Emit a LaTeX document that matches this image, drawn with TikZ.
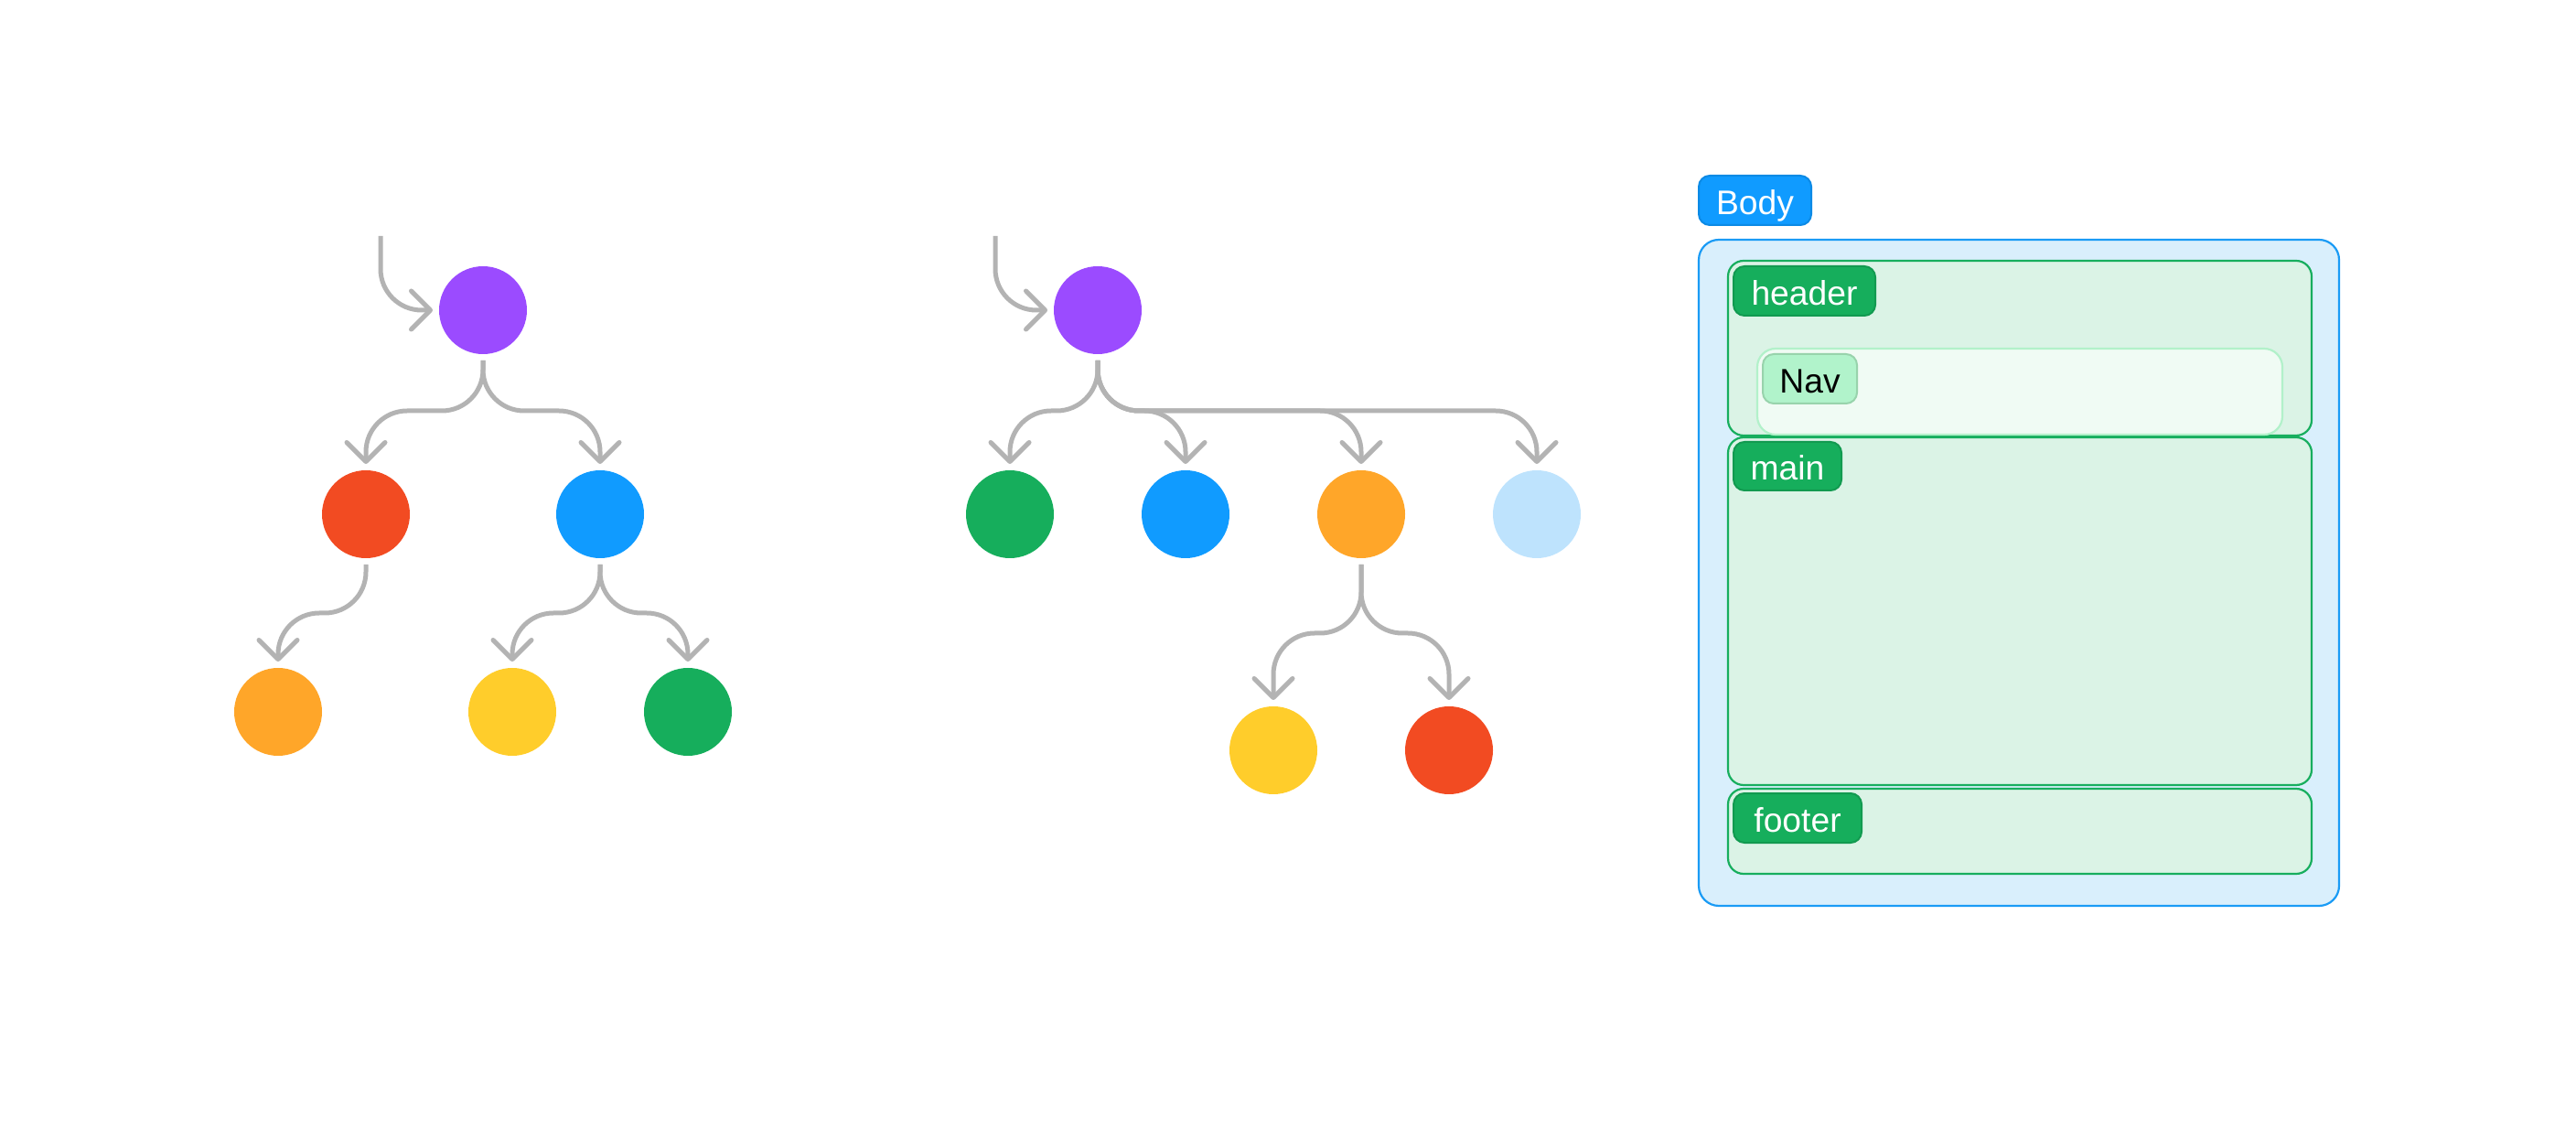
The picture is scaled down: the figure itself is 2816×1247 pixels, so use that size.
\documentclass[tikz,border=0pt]{standalone}
\usepackage{fontspec}
\setmainfont{Liberation Sans}
\usetikzlibrary{arrows.meta,positioning}

\definecolor{dotpurple}{HTML}{9B4BFF}
\definecolor{dotred}{HTML}{F24B22}
\definecolor{dotblue}{HTML}{109BFF}
\definecolor{dotorange}{HTML}{FFA629}
\definecolor{dotyellow}{HTML}{FFCD2B}
\definecolor{dotgreen}{HTML}{16AE5C}
\definecolor{dotpale}{HTML}{BEE3FD}
\definecolor{linkgray}{HTML}{B3B3B3}
\definecolor{bodyfill}{HTML}{D9EFFC}
\definecolor{bodyline}{HTML}{1A9BF5}
\definecolor{bodytagline}{HTML}{0C8AE5}
\definecolor{secfill}{HTML}{DBF3E6}
\definecolor{secline}{HTML}{17AE5E}
\definecolor{sectagline}{HTML}{129A50}
\definecolor{navfill}{HTML}{F0FBF4}
\definecolor{navline}{HTML}{B2F1CA}
\definecolor{navtag}{HTML}{B1F3CB}
\definecolor{navtagline}{HTML}{98D3AC}

\begin{document}
\begin{tikzpicture}[x=0.1mm,y=-0.1mm,
dot/.style={circle,fill=#1,minimum size=9.6mm,inner sep=0pt,outer sep=0pt},
link/.style={-{Straight Barb[length=2.1mm,width=4.2mm,round]},line width=0.5mm,draw=linkgray,rounded corners=4.5mm,shorten <=0.7mm,shorten >=0.7mm},
region/.style={draw=#1,line width=0.22mm,rounded corners=1.7mm,inner sep=0pt,outer sep=0pt,anchor=north west},
tag/.style={rounded corners=1.2mm,inner sep=0pt,outer sep=0pt,minimum height=5.4mm,text height=3.1mm,text depth=0pt,font=\fontsize{10.6}{12}\selectfont,line width=0.2mm}
]
\useasboundingbox (0,0) rectangle (2816,1247);

% first tree
\node[dot=dotpurple] (t1root) at (528,339) {};
\node[dot=dotred,on grid,below left=22.3mm and 12.8mm of t1root] (t1a) {};
\node[dot=dotblue,on grid,below right=22.3mm and 12.8mm of t1root] (t1b) {};
\node[dot=dotorange,on grid,below left=21.6mm and 9.6mm of t1a] (t1c) {};
\node[dot=dotyellow,on grid,below left=21.6mm and 9.6mm of t1b] (t1d) {};
\node[dot=dotgreen,on grid,below right=21.6mm and 9.6mm of t1b] (t1e) {};
\coordinate (t1in) at (416,258);
\draw[link,shorten <=0pt] (t1in) |- (t1root.west);
\draw[link] (t1root.south) -- ++(0,62) -| (t1a.north);
\draw[link] (t1root.south) -- ++(0,62) -| (t1b.north);
\draw[link] (t1a.south) -- ++(0,60) -| (t1c.north);
\draw[link] (t1b.south) -- ++(0,60) -| (t1d.north);
\draw[link] (t1b.south) -- ++(0,60) -| (t1e.north);

% second tree
\node[dot=dotpurple] (t2root) at (1200,339) {};
\node[dot=dotgreen,on grid,below left=22.3mm and 9.6mm of t2root] (t2a) {};
\node[dot=dotblue,on grid,below right=22.3mm and 9.6mm of t2root] (t2b) {};
\node[dot=dotorange,on grid,below right=22.3mm and 28.8mm of t2root] (t2c) {};
\node[dot=dotpale,on grid,below right=22.3mm and 48mm of t2root] (t2d) {};
\node[dot=dotyellow,on grid,below left=25.8mm and 9.6mm of t2c] (t2e) {};
\node[dot=dotred,on grid,below right=25.8mm and 9.6mm of t2c] (t2f) {};
\coordinate (t2in) at (1088,258);
\draw[link,shorten <=0pt] (t2in) |- (t2root.west);
\draw[link] (t2root.south) -- ++(0,62) -| (t2a.north);
\draw[link] (t2root.south) -- ++(0,62) -| (t2b.north);
\draw[link] (t2root.south) -- ++(0,62) -| (t2c.north);
\draw[link] (t2root.south) -- ++(0,62) -| (t2d.north);
\draw[link] (t2c.south) -- ++(0,82) -| (t2e.north);
\draw[link] (t2c.south) -- ++(0,82) -| (t2f.north);

% page layout
\node[region=bodyline,fill=bodyfill,rounded corners=2.2mm,minimum width=70mm,minimum height=72.8mm] (body) at (1857,262) {};
\node[region=secline,fill=secfill,minimum width=63.8mm,minimum height=19.1mm] (header) at (1889,285) {};
\node[region=navline,fill=navfill,rounded corners=2mm,minimum width=57.4mm,minimum height=9.4mm] (nav) at (1921,381) {};
\node[region=secline,fill=secfill,minimum width=63.8mm,minimum height=38mm] (main) at (1889,478) {};
\node[region=secline,fill=secfill,minimum width=63.8mm,minimum height=9.3mm] (footer) at (1889,862) {};
\node[tag,draw=bodytagline,fill=dotblue,text=white,minimum width=12.3mm,above right=1.6mm and 0mm of body.north west] (bodytag) {Body};
\node[tag,draw=sectagline,fill=dotgreen,text=white,minimum width=15.5mm,below right=0.6mm and 0.6mm of header.north west] (headertag) {header};
\node[tag,draw=navtagline,fill=navtag,text=black,minimum width=10.3mm,below right=0.6mm and 0.6mm of nav.north west] (navtag) {Nav};
\node[tag,draw=sectagline,fill=dotgreen,text=white,minimum width=11.8mm,minimum height=5.3mm,below right=0.5mm and 0.6mm of main.north west] (maintag) {main};
\node[tag,draw=sectagline,fill=dotgreen,text=white,minimum width=14mm,below right=0.5mm and 0.6mm of footer.north west] (footertag) {footer};
\end{tikzpicture}
\end{document}
